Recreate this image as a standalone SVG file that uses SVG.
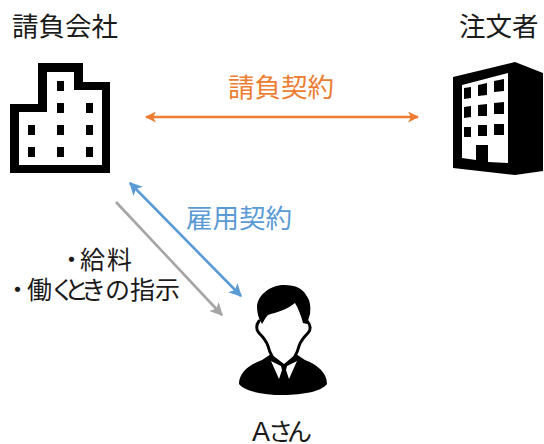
<svg xmlns="http://www.w3.org/2000/svg" width="544" height="444" viewBox="0 0 544 444">
<style>
text{font-family:"Noto Sans CJK JP","Liberation Sans",sans-serif;font-size:26.5px;fill:#1a1a1a}
.l{stroke-width:2.6;fill:none}
.s{font-size:25px}
</style>
<defs>
<marker id="o" viewBox="0 0 10 10" refX="9" refY="5" markerWidth="13" markerHeight="11" markerUnits="userSpaceOnUse" orient="auto-start-reverse"><path d="M0 0L10 5L0 10L2.5 5Z" fill="#ed7d31"/></marker>
<marker id="b" viewBox="0 0 10 10" refX="9" refY="5" markerWidth="15" markerHeight="13" markerUnits="userSpaceOnUse" orient="auto-start-reverse"><path d="M0 0L10 5L0 10L2.5 5Z" fill="#5b9bd5"/></marker>
<marker id="g" viewBox="0 0 10 10" refX="9" refY="5" markerWidth="15" markerHeight="13" markerUnits="userSpaceOnUse" orient="auto"><path d="M0 0L10 5L0 10L2.5 5Z" fill="#a5a5a5"/></marker>
</defs>
<rect width="544" height="444" fill="#fff"/>
<g id="connectors">
<line class="l" x1="146" y1="117" x2="418" y2="117" stroke="#ed7d31" marker-start="url(#o)" marker-end="url(#o)"/>
<line class="l" x1="130" y1="183" x2="241" y2="296" stroke="#5b9bd5" marker-start="url(#b)" marker-end="url(#b)"/>
<line class="l" x1="116" y1="202" x2="222" y2="315" stroke="#a5a5a5" marker-end="url(#g)"/>
</g>
<g id="contractor">
<text x="12" y="36">請負会社</text>
<path fill-rule="evenodd" d="M10 104H38V63H83V82H110V173H10ZM19 112V165H102V90H74V72H47V112Z"/>
<path d="M57 81h7v10h-7zM86 103h7v10h-7zM57 103h7v10h-7zM28 125h7v10h-7zM57 125h7v10h-7zM86 125h7v10h-7zM28 147h7v10h-7zM57 147h7v10h-7zM86 147h7v10h-7z"/>
</g>
<g id="client">
<text x="459" y="36">注文者</text>
<path fill-rule="evenodd" d="M453 77L515 62L543 73V171L515 175L453 168ZM462 85V158L476 160V145H488V162L508 163V73Z"/>
<path d="M464 88l7-1v11l-7 1zM478 85l9-2v12l-9 1zM494 81l10-2v12l-10 1zM464 107l7-1v11l-7 1zM478 105l9-1v12l-9 0zM494 103l10-1v12l-10 0zM464 127l7 0v10l-7 0zM478 125l9 0v11l-9 0zM494 124l10 0v11l-10 0z"/>
</g>
<g id="person">
<path d="M284 285C296 285 303 289 306 295C310 300 311 306 310 314L307 324L303 323C301 315 298 308 295 303C288 309 278 312 268 315C265 318 264 321 262 324C258 318 257 312 257 306C258 295 270 285 284 285Z"/>
<path fill="none" stroke="#000" stroke-width="3" stroke-linecap="round" d="M259 321C256 325 256 330 259 333C263 337 266 340 268 346C269 350 270 353 272 356M307 321C311 325 311 330 308 333C304 337 301 340 299 346C298 350 297 353 295 356"/>
<path d="M262 360C248 365 239 373 239 384C244 391 262 395 283 395C304 395 322 391 327 384C327 373 318 365 305 360L296 354L284 364L271 354Z"/>
<path fill="#fff" d="M271 361L281 366L282 370L279 379ZM297 361L287 366L286 370L289 379Z"/>
<text x="252 268 287" y="441" class="s"><tspan style="font-family:'Liberation Sans';font-size:27px">A</tspan>さん</text>
</g>
<g id="labels">
<text x="228" y="97" style="fill:#ed7d31">請負契約</text>
<text x="186" y="228" style="fill:#5b9bd5">雇用契約</text>
<text x="59 80 107" y="269" class="s">・給料</text>
<text x="5 27 50 64 81 105 130 155" y="299" class="s">・働くときの指示</text>
</g>
</svg>
